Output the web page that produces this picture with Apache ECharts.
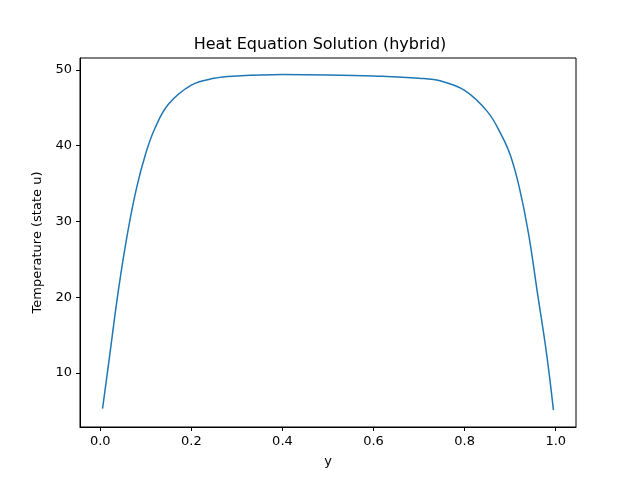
<!DOCTYPE html>
<html><head><meta charset="utf-8">
<script src="https://cdn.jsdelivr.net/npm/echarts@6/dist/echarts.min.js"></script>
<style>html,body{margin:0;background:#fff}#main{width:640px;height:480px}</style>
</head><body><div id="main"></div>
<script>
var yPos = [0.005, 0.02, 0.04, 0.06, 0.08, 0.1, 0.12, 0.15, 0.2, 0.25, 0.3, 0.4, 0.5, 0.6, 0.7, 0.75, 0.8, 0.85, 0.88, 0.9, 0.92, 0.94, 0.96, 0.98, 0.995];
var temp = [5.3, 12, 21, 28.5, 34.5, 39, 42.3, 45.5, 48, 48.9, 49.2, 49.4, 49.35, 49.2, 48.9, 48.5, 47.3, 44.5, 41.5, 38.8, 34.5, 28.5, 20.5, 12.5, 5.1];
var xTicks = [0, 0.2, 0.4, 0.6, 0.8, 1.0];
var yTicks = [10, 20, 30, 40, 50];

var font = 'DejaVu Sans';
var myChart = echarts.init(document.getElementById('main'));
myChart.setOption({
    animation: false,
    title: {
        text: 'Heat Equation Solution (hybrid)', left: 'center', top: 32,
        textStyle: {fontFamily: font, fontSize: 16, fontWeight: 'normal', color: '#000'}
    },
    grid: {left: 80, right: 64, top: 58, bottom: 53, show: true, borderColor: '#000', borderWidth: 1},
    xAxis: {
        type: 'value', min: -0.0445, max: 1.0445,
        name: 'y', nameLocation: 'middle', nameGap: 28,
        nameTextStyle: {fontFamily: font, fontSize: 13, color: '#000'},
        splitLine: {show: false},
        axisLine: {show: true, onZero: false, lineStyle: {color: '#000'}},
        axisTick: {show: true, length: 4, customValues: xTicks, lineStyle: {color: '#000'}},
        axisLabel: {customValues: xTicks, fontFamily: font, fontSize: 13, color: '#000',
            formatter: function (v) { return v.toFixed(1); }}
    },
    yAxis: {
        type: 'value', min: 2.87, max: 51.58,
        name: 'Temperature (state u)', nameLocation: 'middle', nameGap: 35,
        nameTextStyle: {fontFamily: font, fontSize: 13, color: '#000'},
        splitLine: {show: false},
        axisLine: {show: true, onZero: false, lineStyle: {color: '#000'}},
        axisTick: {show: true, length: 4, customValues: yTicks, lineStyle: {color: '#000'}},
        axisLabel: {customValues: yTicks, fontFamily: font, fontSize: 13, color: '#000'}
    },
    series: [{
        type: 'line', smooth: 0.4, showSymbol: false,
        data: yPos.map(function (x, i) { return [x, temp[i]]; }),
        lineStyle: {color: '#1f77b4', width: 1.5}
    }]
});
</script></body></html>
